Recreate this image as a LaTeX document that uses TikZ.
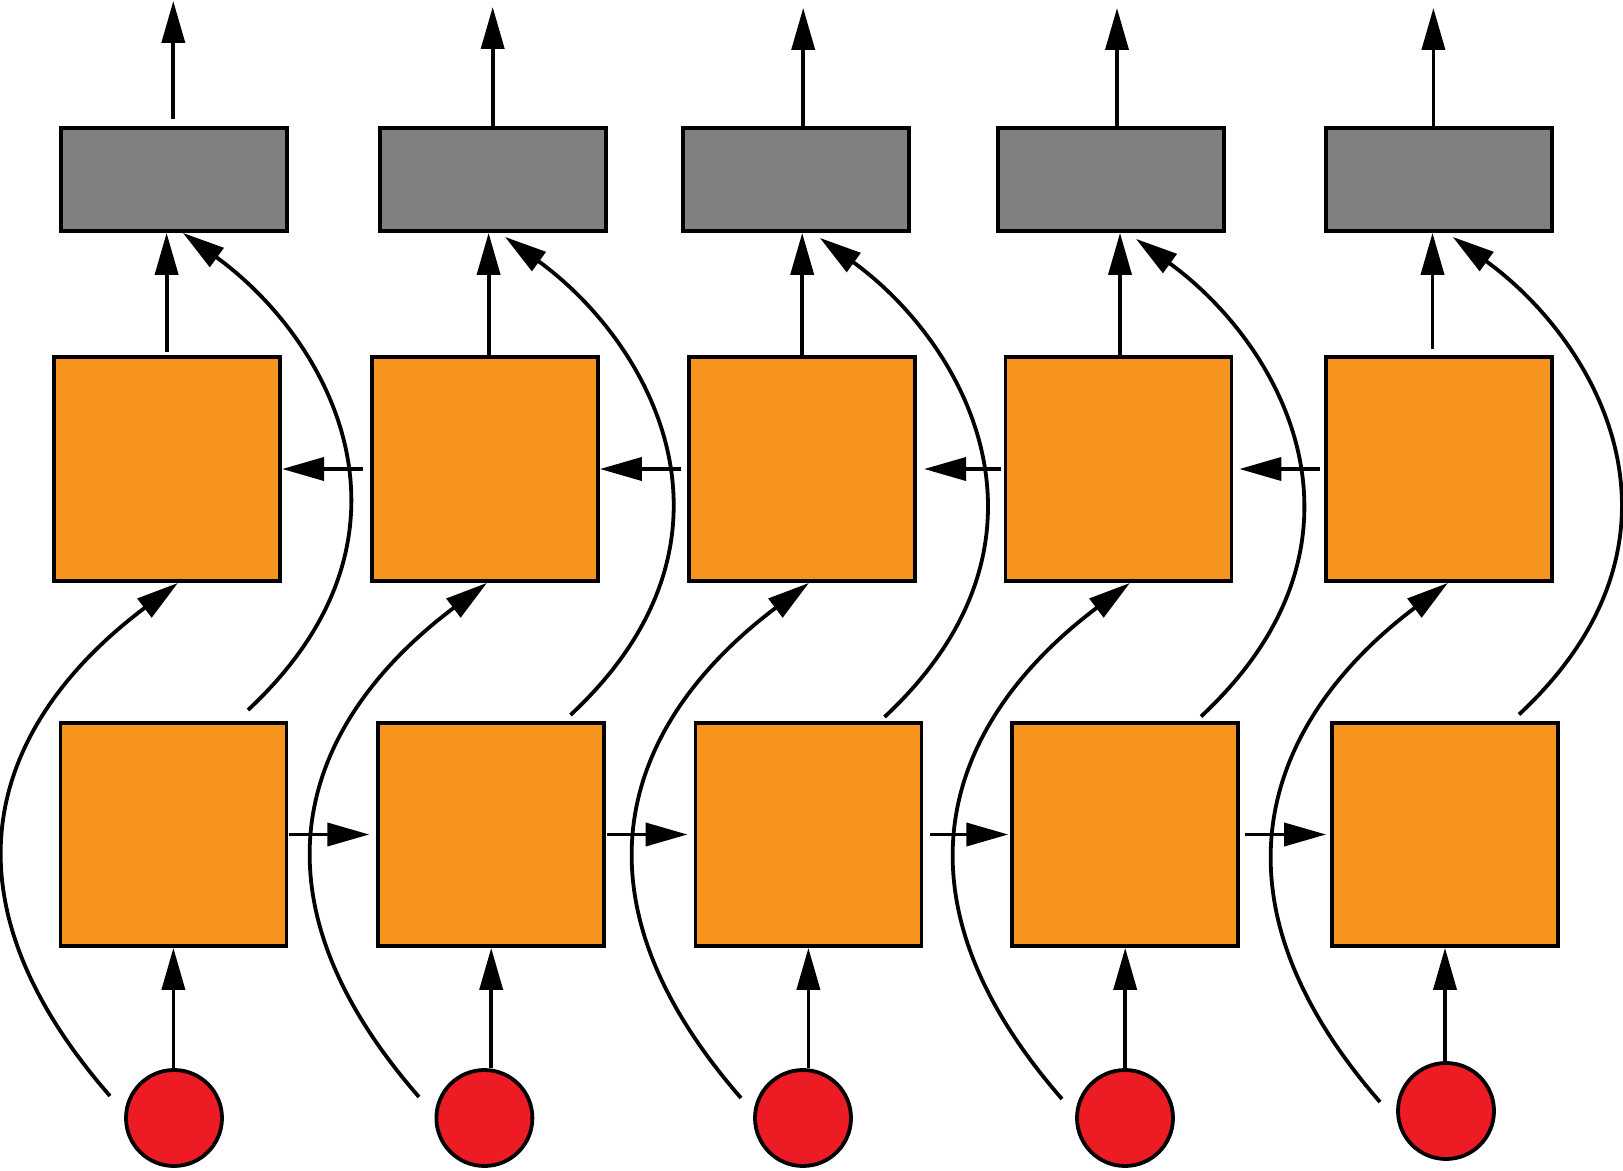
\documentclass[tikz,border=0pt]{standalone}
\usetikzlibrary{arrows.meta,calc}
\definecolor{boxorange}{RGB}{247,148,30}
\definecolor{inred}{RGB}{237,28,36}
\definecolor{outgray}{RGB}{128,128,128}
\begin{document}
\begin{tikzpicture}[x=0.5pt,y=-0.5pt,
  graybox/.style={draw, line width=1.9pt, fill=outgray, minimum width=113pt, minimum height=51.5pt, inner sep=0pt},
  orangebox/.style={draw, line width=1.9pt, fill=boxorange, minimum width=113pt, minimum height=112pt, inner sep=0pt},
  lowbox/.style={draw, line width=1.9pt, fill=boxorange, minimum width=113pt, minimum height=111.5pt, inner sep=0pt},
  inputcirc/.style={circle, draw, line width=1.9pt, fill=inred, minimum size=48pt, inner sep=0pt},
  conn/.style={line width=1.9pt},
  arr/.style={conn, -{Triangle[length=21pt,width=11.5pt]}}]
\useasboundingbox (0,0) rectangle (1623,1171);
% nodes
\foreach \i/\px in {1/173.9,2/492.7,3/795.8,4/1110.7,5/1438.7}
  \node[graybox] (g\i) at (\px,179.5) {};
\foreach \i/\px in {1/167.2,2/485,3/802.2,4/1118.4,5/1438.8}
  \node[orangebox] (u\i) at (\px,469) {};
\foreach \i/\px in {1/173.4,2/491.2,3/808.4,4/1125.2,5/1445}
  \node[lowbox] (l\i) at (\px,834.5) {};
\foreach \i/\px/\py in {1/174/1118,2/484.4/1118,3/803/1118,4/1125/1118,5/1446/1111}
  \node[inputcirc] (c\i) at (\px,\py) {};
% lower horizontal arrows
\foreach \i/\j/\s/\e in {1/2/0.5pt/3.5pt,2/3/0.5pt/3pt,3/4/3.5pt/1pt,4/5/2.5pt/2pt}
  \draw[arr, shorten <=\s, shorten >=\e] (l\i.east) -- (l\j.west);
% upper horizontal arrows
\foreach \i/\j/\s/\e in {2/1/3.5pt/0pt,3/2/3pt/0pt,4/3/1.5pt/3.5pt,5/4/2pt/3pt}
  \draw[arr, shorten <=\s, shorten >=\e] (u\i.west) -- (u\j.east);
% inputs
\foreach \i in {1,...,5}
  \draw[arr] (l\i.south |- c\i.north) -- (l\i.south);
% upper to gray
\foreach \i/\dx/\s in {1/-0.6/1.5pt,2/3.6/0pt,3/0/0pt,4/1.6/0pt,5/-6.3/3pt}{
  \coordinate (v\i) at ($(u\i.north)+(\dx,0)$);
  \draw[arr, shorten <=\s] (v\i) -- (v\i |- g\i.south);
}
% outputs
\foreach \i/\px/\py/\s in {1/173.3/1/3.5pt,2/492.7/7/0pt,3/803.2/8/0pt,4/1117/8/0pt,5/1433.4/8/0pt}{
  \coordinate (o\i) at (\px,\py);
  \draw[arr, shorten <=\s] (o\i |- g\i.north) -- (o\i);
}
% skip curves: input to upper layer
\foreach \i/\px/\py/\dx in {1/110/1096/10.8,2/419/1097/2,3/741/1098/6.8,4/1062/1099/11.6,5/1380/1102/9.2}{
  \coordinate (sa\i) at (\px,\py);
  \coordinate (ta\i) at ($(u\i.south)+(\dx,0)$);
  \draw[arr] (sa\i) .. controls +(-197,-226) and +(-160,120) .. (ta\i);
}
% skip curves: lower layer to output
\foreach \i/\px/\py/\dx/\dy in {1/248/710/9/0,2/570.5/715/12.3/4,3/884.5/717/24/5,4/1201/716.5/25.3/6,5/1519/714.5/14/4}{
  \coordinate (sb\i) at (\px,\py);
  \coordinate (tb\i) at ($(g\i.south)+(\dx,\dy)$);
  \draw[arr] (sb\i) .. controls +(190,-177) and +(146,106) .. (tb\i);
}
\end{tikzpicture}
\end{document}
